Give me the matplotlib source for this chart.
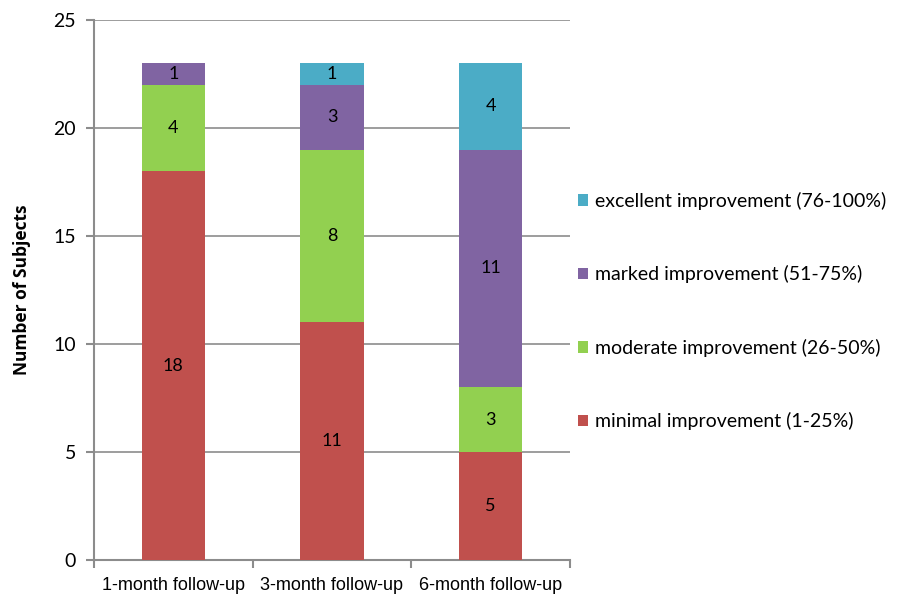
import matplotlib.pyplot as plt
import numpy as np

# data
periods = ['1-month follow-up', '3-month follow-up', '6-month follow-up']
minimal = [18, 11, 5]
moderate = [4, 8, 3]
marked = [1, 3, 11]
excellent = [0, 1, 4]

series = [
    ('minimal improvement (1-25%)', minimal, '#C0504D'),
    ('moderate improvement (26-50%)', moderate, '#92D050'),
    ('marked improvement (51-75%)', marked, '#8064A2'),
    ('excellent improvement (76-100%)', excellent, '#4BACC6'),
]

plt.rcParams['font.family'] = ['Lato', 'DejaVu Sans']
grey = '#8C8C8C'

fig = plt.figure(figsize=(9.09, 5.97), dpi=100)
ax = fig.add_axes([94/909, 1-560/597, (570-94)/909, (560-20)/597])

x = np.arange(len(periods))
bottom = np.zeros(len(periods))
handles = []
for name, vals, col in series:
    vals = np.array(vals, dtype=float)
    bars = ax.bar(x, vals, 0.4, bottom=bottom, color=col, label=name, zorder=3)
    handles.append(bars)
    for xi, v, b in zip(x, vals, bottom):
        if v > 0:
            ax.text(xi, b + v/2, '%d' % v, ha='center', va='center', fontsize=13, zorder=4)
    bottom += vals

ax.set_xlim(-0.5, 2.5)
ax.set_ylim(0, 25)
ax.set_yticks(range(0, 26, 5))
ax.yaxis.grid(True, color=grey, linewidth=1.2, zorder=0)
ax.set_axisbelow(True)

for s in ['top', 'right']:
    ax.spines[s].set_visible(False)
for s in ['left', 'bottom']:
    ax.spines[s].set_color(grey)
    ax.spines[s].set_linewidth(1.5)

ax.set_xticks(x)
ax.set_xticklabels(periods, fontsize=13, family=['Liberation Sans Narrow', 'Liberation Sans', 'DejaVu Sans'])
ax.set_xticks([-0.5, 0.5, 1.5, 2.5], minor=True)
ax.tick_params(axis='x', which='major', length=0, pad=12)
ax.tick_params(axis='x', which='minor', length=6, color=grey, width=1.5)
ax.tick_params(axis='y', length=6, color=grey, width=1.5, labelsize=14, pad=7)

ax.set_ylabel('Number of Subjects', fontsize=12.5, fontweight='bold', labelpad=16,
              family=['Open Sans', 'DejaVu Sans'])

leg = fig.legend(handles[::-1], [h.get_label() for h in handles[::-1]],
                 loc='center left', bbox_to_anchor=(560/909, 1-311/597),
                 frameon=False, fontsize=14, handlelength=0.55, handleheight=0.55,
                 handletextpad=0.35, labelspacing=2.85)

fig.savefig('out.png', dpi=100)
